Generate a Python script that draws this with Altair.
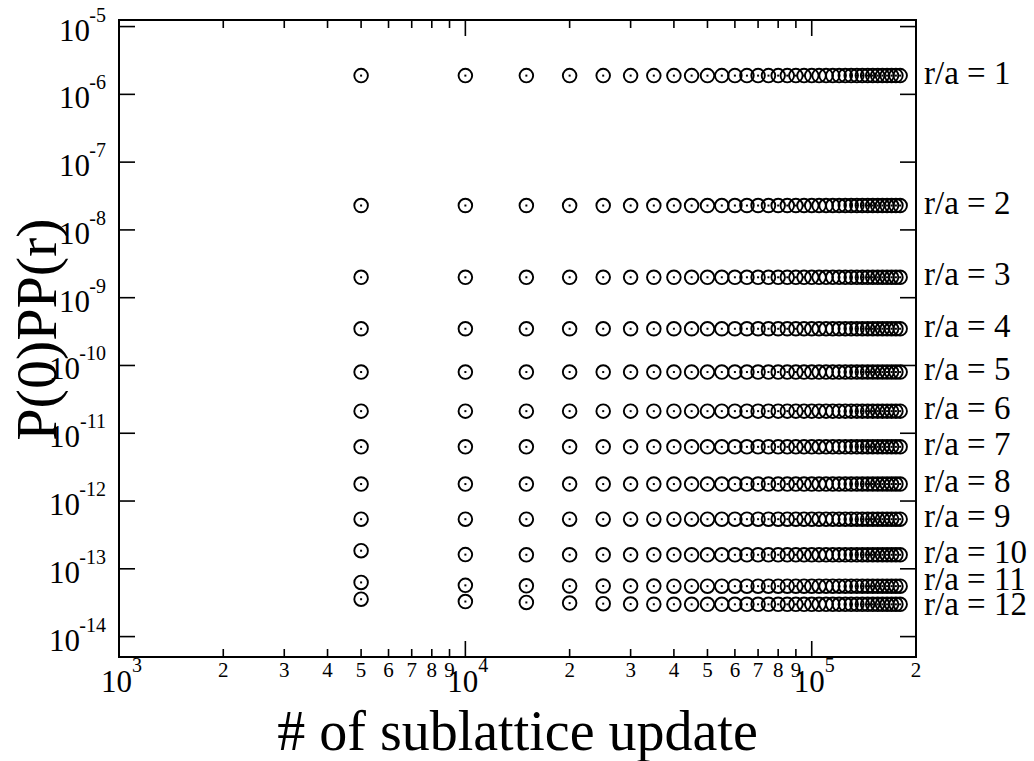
import altair as alt
import pandas as pd

# ---------------- data ----------------
updates = [5000, 10000, 15000, 20000, 25000, 30000, 35000, 40000, 45000, 50000,
           55000, 60000, 65000, 70000, 75000, 80000, 85000, 90000, 95000, 100000,
           105000, 110000, 115000, 120000, 125000, 130000, 135000, 140000, 145000, 150000,
           155000, 160000, 165000, 170000, 175000, 180000]

separations = [1, 2, 3, 4, 5, 6, 7, 8, 9, 10, 11, 12]
series_labels = ["r/a = 1", "r/a = 2", "r/a = 3", "r/a = 4", "r/a = 5", "r/a = 6",
                 "r/a = 7", "r/a = 8", "r/a = 9", "r/a = 10", "r/a = 11", "r/a = 12"]

pp_r01 = [1.89e-6, 1.89e-6, 1.89e-6, 1.89e-6, 1.89e-6, 1.89e-6, 1.89e-6, 1.89e-6, 1.89e-6, 1.89e-6,
          1.89e-6, 1.89e-6, 1.89e-6, 1.89e-6, 1.89e-6, 1.89e-6, 1.89e-6, 1.89e-6, 1.89e-6, 1.89e-6,
          1.89e-6, 1.89e-6, 1.89e-6, 1.89e-6, 1.89e-6, 1.89e-6, 1.89e-6, 1.89e-6, 1.89e-6, 1.89e-6,
          1.89e-6, 1.89e-6, 1.89e-6, 1.89e-6, 1.89e-6, 1.89e-6]
pp_r02 = [2.29e-8, 2.29e-8, 2.29e-8, 2.29e-8, 2.29e-8, 2.29e-8, 2.29e-8, 2.29e-8, 2.29e-8, 2.29e-8,
          2.29e-8, 2.29e-8, 2.29e-8, 2.29e-8, 2.29e-8, 2.29e-8, 2.29e-8, 2.29e-8, 2.29e-8, 2.29e-8,
          2.29e-8, 2.29e-8, 2.29e-8, 2.29e-8, 2.29e-8, 2.29e-8, 2.29e-8, 2.29e-8, 2.29e-8, 2.29e-8,
          2.29e-8, 2.29e-8, 2.29e-8, 2.29e-8, 2.29e-8, 2.29e-8]
pp_r03 = [2.0e-9, 2.0e-9, 2.0e-9, 2.0e-9, 2.0e-9, 2.0e-9, 2.0e-9, 2.0e-9, 2.0e-9, 2.0e-9,
          2.0e-9, 2.0e-9, 2.0e-9, 2.0e-9, 2.0e-9, 2.0e-9, 2.0e-9, 2.0e-9, 2.0e-9, 2.0e-9,
          2.0e-9, 2.0e-9, 2.0e-9, 2.0e-9, 2.0e-9, 2.0e-9, 2.0e-9, 2.0e-9, 2.0e-9, 2.0e-9,
          2.0e-9, 2.0e-9, 2.0e-9, 2.0e-9, 2.0e-9, 2.0e-9]
pp_r04 = [3.48e-10, 3.48e-10, 3.48e-10, 3.48e-10, 3.48e-10, 3.48e-10, 3.48e-10, 3.48e-10, 3.48e-10, 3.48e-10,
          3.48e-10, 3.48e-10, 3.48e-10, 3.48e-10, 3.48e-10, 3.48e-10, 3.48e-10, 3.48e-10, 3.48e-10, 3.48e-10,
          3.48e-10, 3.48e-10, 3.48e-10, 3.48e-10, 3.48e-10, 3.48e-10, 3.48e-10, 3.48e-10, 3.48e-10, 3.48e-10,
          3.48e-10, 3.48e-10, 3.48e-10, 3.48e-10, 3.48e-10, 3.48e-10]
pp_r05 = [8.0e-11, 8.0e-11, 8.0e-11, 8.0e-11, 8.0e-11, 8.0e-11, 8.0e-11, 8.0e-11, 8.0e-11, 8.0e-11,
          8.0e-11, 8.0e-11, 8.0e-11, 8.0e-11, 8.0e-11, 8.0e-11, 8.0e-11, 8.0e-11, 8.0e-11, 8.0e-11,
          8.0e-11, 8.0e-11, 8.0e-11, 8.0e-11, 8.0e-11, 8.0e-11, 8.0e-11, 8.0e-11, 8.0e-11, 8.0e-11,
          8.0e-11, 8.0e-11, 8.0e-11, 8.0e-11, 8.0e-11, 8.0e-11]
pp_r06 = [2.12e-11, 2.12e-11, 2.12e-11, 2.12e-11, 2.12e-11, 2.12e-11, 2.12e-11, 2.12e-11, 2.12e-11, 2.12e-11,
          2.12e-11, 2.12e-11, 2.12e-11, 2.12e-11, 2.12e-11, 2.12e-11, 2.12e-11, 2.12e-11, 2.12e-11, 2.12e-11,
          2.12e-11, 2.12e-11, 2.12e-11, 2.12e-11, 2.12e-11, 2.12e-11, 2.12e-11, 2.12e-11, 2.12e-11, 2.12e-11,
          2.12e-11, 2.12e-11, 2.12e-11, 2.12e-11, 2.12e-11, 2.12e-11]
pp_r07 = [6.3e-12, 6.3e-12, 6.3e-12, 6.3e-12, 6.3e-12, 6.3e-12, 6.3e-12, 6.3e-12, 6.3e-12, 6.3e-12,
          6.3e-12, 6.3e-12, 6.3e-12, 6.3e-12, 6.3e-12, 6.3e-12, 6.3e-12, 6.3e-12, 6.3e-12, 6.3e-12,
          6.3e-12, 6.3e-12, 6.3e-12, 6.3e-12, 6.3e-12, 6.3e-12, 6.3e-12, 6.3e-12, 6.3e-12, 6.3e-12,
          6.3e-12, 6.3e-12, 6.3e-12, 6.3e-12, 6.3e-12, 6.3e-12]
pp_r08 = [1.78e-12, 1.78e-12, 1.78e-12, 1.78e-12, 1.78e-12, 1.78e-12, 1.78e-12, 1.78e-12, 1.78e-12, 1.78e-12,
          1.78e-12, 1.78e-12, 1.78e-12, 1.78e-12, 1.78e-12, 1.78e-12, 1.78e-12, 1.78e-12, 1.78e-12, 1.78e-12,
          1.78e-12, 1.78e-12, 1.78e-12, 1.78e-12, 1.78e-12, 1.78e-12, 1.78e-12, 1.78e-12, 1.78e-12, 1.78e-12,
          1.78e-12, 1.78e-12, 1.78e-12, 1.78e-12, 1.78e-12, 1.78e-12]
pp_r09 = [5.4e-13, 5.4e-13, 5.4e-13, 5.4e-13, 5.4e-13, 5.4e-13, 5.4e-13, 5.4e-13, 5.4e-13, 5.4e-13,
          5.4e-13, 5.4e-13, 5.4e-13, 5.4e-13, 5.4e-13, 5.4e-13, 5.4e-13, 5.4e-13, 5.4e-13, 5.4e-13,
          5.4e-13, 5.4e-13, 5.4e-13, 5.4e-13, 5.4e-13, 5.4e-13, 5.4e-13, 5.4e-13, 5.4e-13, 5.4e-13,
          5.4e-13, 5.4e-13, 5.4e-13, 5.4e-13, 5.4e-13, 5.4e-13]
pp_r10 = [1.85e-13, 1.62e-13, 1.61e-13, 1.61e-13, 1.61e-13, 1.61e-13, 1.61e-13, 1.61e-13, 1.61e-13, 1.61e-13,
          1.61e-13, 1.61e-13, 1.61e-13, 1.61e-13, 1.61e-13, 1.61e-13, 1.61e-13, 1.61e-13, 1.61e-13, 1.61e-13,
          1.61e-13, 1.61e-13, 1.61e-13, 1.61e-13, 1.61e-13, 1.61e-13, 1.61e-13, 1.61e-13, 1.61e-13, 1.61e-13,
          1.61e-13, 1.61e-13, 1.61e-13, 1.61e-13, 1.61e-13, 1.61e-13]
pp_r11 = [6.3e-14, 5.7e-14, 5.62e-14, 5.58e-14, 5.58e-14, 5.56e-14, 5.56e-14, 5.55e-14, 5.55e-14, 5.55e-14,
          5.55e-14, 5.55e-14, 5.55e-14, 5.55e-14, 5.55e-14, 5.55e-14, 5.55e-14, 5.55e-14, 5.55e-14, 5.55e-14,
          5.55e-14, 5.55e-14, 5.55e-14, 5.55e-14, 5.55e-14, 5.55e-14, 5.55e-14, 5.55e-14, 5.55e-14, 5.55e-14,
          5.55e-14, 5.55e-14, 5.55e-14, 5.55e-14, 5.55e-14, 5.55e-14]
pp_r12 = [3.56e-14, 3.29e-14, 3.19e-14, 3.12e-14, 3.06e-14, 3.02e-14, 3.0e-14, 3.0e-14, 2.99e-14, 2.99e-14,
          2.99e-14, 2.99e-14, 2.99e-14, 2.99e-14, 2.99e-14, 2.99e-14, 2.99e-14, 2.99e-14, 2.99e-14, 2.99e-14,
          2.99e-14, 2.99e-14, 2.99e-14, 2.99e-14, 2.99e-14, 2.99e-14, 2.99e-14, 2.99e-14, 2.99e-14, 2.99e-14,
          2.99e-14, 2.99e-14, 2.99e-14, 2.99e-14, 2.99e-14, 2.99e-14]

series_values = [pp_r01, pp_r02, pp_r03, pp_r04, pp_r05, pp_r06,
                 pp_r07, pp_r08, pp_r09, pp_r10, pp_r11, pp_r12]

# axis tick values and labels
y_major_ticks = [1e-5, 1e-6, 1e-7, 1e-8, 1e-9, 1e-10, 1e-11, 1e-12, 1e-13, 1e-14]
y_exponents = ["-5", "-6", "-7", "-8", "-9", "-10", "-11", "-12", "-13", "-14"]
x_major_ticks = [1e3, 1e4, 1e5]
x_exponents = ["3", "4", "5"]
x_minor_ticks = [2e3, 3e3, 4e3, 5e3, 6e3, 7e3, 8e3, 9e3,
                 2e4, 3e4, 4e4, 5e4, 6e4, 7e4, 8e4, 9e4, 2e5]
x_minor_labels = ["2", "3", "4", "5", "6", "7", "8", "9",
                  "2", "3", "4", "5", "6", "7", "8", "9", "2"]

x_title = "# of sublattice update"
y_title = "P(0)PP(r)"

# ---------------- build tables ----------------
rows = []
for r, vals in zip(separations, series_values):
    for u, v in zip(updates, vals):
        rows.append({"update": u, "corr": v, "r": r})
points = pd.DataFrame(rows)

end_labels = pd.DataFrame({
    "corr": [vals[-1] for vals in series_values],
    "label": series_labels,
    "r": separations,
})

ymaj = pd.DataFrame({"v": y_major_ticks, "exp": y_exponents,
                     "ndig": [len(e) for e in y_exponents]})
xmaj = pd.DataFrame({"v": x_major_ticks, "exp": x_exponents})
xmin = pd.DataFrame({"v": x_minor_ticks, "lab": x_minor_labels})

W, H = 797, 637
FONT = "Liberation Serif"
xs = alt.Scale(type="log", domain=[1000, 200000], nice=False)
ys = alt.Scale(type="log", domain=[5e-15, 1.25e-5], nice=False)

X = alt.X("update:Q", scale=xs, axis=None)
Y = alt.Y("corr:Q", scale=ys, axis=None)

rings = alt.Chart(points).mark_point(
    shape="circle", size=185, filled=False, stroke="black", strokeWidth=1.9, opacity=1
).encode(x=X, y=Y)
dots = alt.Chart(points).mark_square(size=4, color="black", opacity=1).encode(x=X, y=Y)

# ticks
tick_style = dict(stroke="black", strokeWidth=1.6)
yv = alt.Y("v:Q", scale=ys, axis=None)
xv = alt.X("v:Q", scale=xs, axis=None)
ytick_l = alt.Chart(ymaj).mark_rule(**tick_style).encode(y=yv, x=alt.value(0), x2=alt.value(16))
ytick_r = alt.Chart(ymaj).mark_rule(**tick_style).encode(y=yv, x=alt.value(W - 16), x2=alt.value(W))
xtick_b = alt.Chart(xmaj).mark_rule(**tick_style).encode(x=xv, y=alt.value(H - 16), y2=alt.value(H))
xtick_t = alt.Chart(xmaj).mark_rule(**tick_style).encode(x=xv, y=alt.value(0), y2=alt.value(16))
xmin_b = alt.Chart(xmin).mark_rule(**tick_style).encode(x=xv, y=alt.value(H - 8), y2=alt.value(H))
xmin_t = alt.Chart(xmin).mark_rule(**tick_style).encode(x=xv, y=alt.value(0), y2=alt.value(8))

# y tick labels: "10" + superscript exponent
y_exp = alt.Chart(ymaj).mark_text(font=FONT, fontSize=20, align="right", baseline="alphabetic", dy=-5).encode(
    y=yv, x=alt.value(-13), text="exp:N")
y_ten_1 = alt.Chart(ymaj).transform_filter("datum.ndig == 2").mark_text(
    font=FONT, fontSize=31, align="right", baseline="alphabetic", dy=14).encode(
    y=yv, x=alt.value(-29), text=alt.value("10"))
y_ten_2 = alt.Chart(ymaj).transform_filter("datum.ndig == 3").mark_text(
    font=FONT, fontSize=31, align="right", baseline="alphabetic", dy=14).encode(
    y=yv, x=alt.value(-39), text=alt.value("10"))

# x tick labels
x_ten = alt.Chart(xmaj).mark_text(font=FONT, fontSize=31, align="right", baseline="alphabetic", dx=13).encode(
    x=xv, y=alt.value(H + 35), text=alt.value("10"))
x_exp = alt.Chart(xmaj).mark_text(font=FONT, fontSize=20, align="left", baseline="alphabetic", dx=13).encode(
    x=xv, y=alt.value(H + 15), text="exp:N")
x_minlab = alt.Chart(xmin).mark_text(font=FONT, fontSize=21, align="center", baseline="alphabetic").encode(
    x=xv, y=alt.value(H + 20), text="lab:N")

# series labels on right
lab_style = dict(font=FONT, fontSize=33, align="left", baseline="middle")
right_labels = alt.Chart(end_labels).transform_filter("datum.r <= 10").mark_text(dy=-2, **lab_style).encode(
    y=Y, x=alt.value(W + 8), text="label:N")
right_label_11 = alt.Chart(end_labels).transform_filter("datum.r == 11").mark_text(dy=-6, **lab_style).encode(
    y=Y, x=alt.value(W + 8), text="label:N")
right_label_12 = alt.Chart(end_labels).transform_filter("datum.r == 12").mark_text(dy=1, **lab_style).encode(
    y=Y, x=alt.value(W + 8), text="label:N")

# titles
xt = alt.Chart(pd.DataFrame({"t": [x_title]})).mark_text(
    font=FONT, fontSize=56, align="center", baseline="alphabetic").encode(
    x=alt.value(W / 2), y=alt.value(H + 93), text="t:N")
yt = alt.Chart(pd.DataFrame({"t": [y_title]})).mark_text(
    font=FONT, fontSize=58, align="center", baseline="middle", angle=270).encode(
    x=alt.value(-80), y=alt.value(H / 2 - 9), text="t:N")

chart = alt.layer(
    rings, dots, ytick_l, ytick_r, xtick_b, xtick_t, xmin_b, xmin_t,
    y_exp, y_ten_1, y_ten_2, x_ten, x_exp, x_minlab,
    right_labels, right_label_11, right_label_12, xt, yt
).properties(
    width=W, height=H,
    padding={"left": 119, "top": 20, "right": 118, "bottom": 104},
    autosize=alt.AutoSizeParams(type="none"),
    background="white",
).configure_view(stroke="black", strokeWidth=2)

chart.save("out.html", embed_options={"renderer": "svg", "actions": False})
